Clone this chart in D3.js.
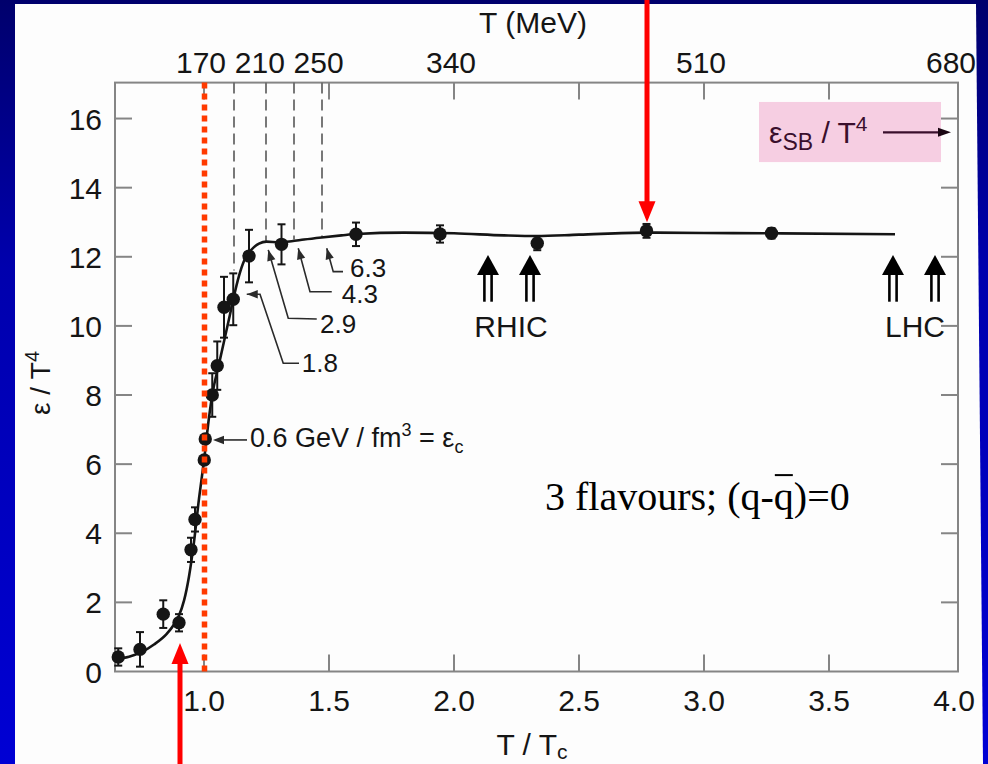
<!DOCTYPE html>
<html><head><meta charset="utf-8">
<script src="https://cdn.jsdelivr.net/npm/d3@7"></script>
<style>html,body{margin:0;padding:0;background:#00008a;}svg{display:block}</style>
</head><body>
<svg id="c" width="988" height="764"></svg>
<script>
// ---------- data ----------
const ratioTicks = [1.0, 1.5, 2.0, 2.5, 3.0, 3.5, 4.0];          // T/Tc
const yTicks = [0, 2, 4, 6, 8, 10, 12, 14, 16];                   // eps/T^4
const mevLabels = [170, 210, 250, 340, 510, 680];                 // T (MeV)
const Tc = 170;
const curveT = [0.644,0.70,0.75,0.80,0.85,0.88,0.90,0.92,0.94,0.96,0.98,1.00,1.02,1.033,1.06,1.08,1.10,1.117,1.14,1.16,1.18,1.20,1.22,1.25,1.30,1.35,1.40,1.47,1.55,1.61,1.80,2.00,2.20,2.33,2.50,2.77,3.00,3.27,3.764];
const curveE = [0.36,0.43,0.56,0.78,1.08,1.36,1.62,2.05,2.75,3.75,5.0,6.1,7.35,8.0,8.9,9.55,10.2,10.77,11.45,11.88,12.12,12.28,12.38,12.44,12.42,12.45,12.5,12.56,12.62,12.66,12.7,12.68,12.62,12.6,12.64,12.7,12.69,12.68,12.65];
const pointT = [0.657,0.744,0.837,0.900,0.948,0.964,1.001,1.005,1.033,1.053,1.080,1.117,1.180,1.310,1.608,1.944,2.333,2.770,3.270];
const pointE = [0.42,0.64,1.66,1.41,3.52,4.40,6.12,6.73,8.00,8.85,10.54,10.77,12.02,12.36,12.65,12.66,12.39,12.75,12.68];
const pointErr = [0.25,0.50,0.40,0.25,0.35,0.35,0.10,0.10,0.63,0.70,0.88,0.75,0.76,0.58,0.34,0.25,0.20,0.20,0.15];
const densityT = [1.12, 1.248, 1.36, 1.472];                      // dashed lines
const densityTop = [11.6, 12.45, 12.5, 12.56];
const densityLabels = ["1.8", "2.9", "4.3", "6.3"];               // GeV/fm^3
const rhicT = [2.136, 2.304];
const lhcT = [3.756, 3.924];
const sbValue = 15.6;
const critT = 1.0;
const highlightT = [0.904, 2.772];

// ---------- layout ----------
const svg = d3.select("#c");
const x = d3.scaleLinear().domain([0.644, 4.016]).range([115, 958]);
const y = d3.scaleLinear().domain([0, 17.04]).range([671.5, 82.6]);
const SANS = "'Liberation Sans', Arial, Helvetica, sans-serif";
const SERIF = "'Liberation Serif', 'Times New Roman', serif";
const INK = "#151515";

// background
const defs = svg.append("defs");
const g0 = defs.append("linearGradient").attr("id","bg").attr("x1",0).attr("y1",0).attr("x2",0).attr("y2",1);
g0.append("stop").attr("offset",0).attr("stop-color","#00006c");
g0.append("stop").attr("offset",0.35).attr("stop-color","#0000ad");
g0.append("stop").attr("offset",1).attr("stop-color","#0000d4");
svg.append("rect").attr("width",988).attr("height",764).attr("fill","url(#bg)");
svg.append("path").attr("d","M15,4 L976,4 L983,764 L15,764 Z").attr("fill","#fdfdfd");

const [x0, x1] = x.range(); const [yb, yt] = y.range();
const axisG = svg.append("g").attr("stroke","#858585").attr("stroke-width",2).attr("fill","none");
axisG.append("rect").attr("x",x0).attr("y",yt).attr("width",x1-x0).attr("height",yb-yt);
const TL = 17;
ratioTicks.filter(t => t < 3.9).forEach(t => {
  axisG.append("line").attr("x1",x(t)).attr("x2",x(t)).attr("y1",yb).attr("y2",yb-TL);
  axisG.append("line").attr("x1",x(t)).attr("x2",x(t)).attr("y1",yt).attr("y2",yt+TL);
});
yTicks.filter(v => v > 0).forEach(v => {
  axisG.append("line").attr("x1",x0).attr("x2",x0+TL).attr("y1",y(v)).attr("y2",y(v));
  axisG.append("line").attr("x1",x1).attr("x2",x1-TL).attr("y1",y(v)).attr("y2",y(v));
});

// tick labels
const lab = svg.append("g").attr("font-family",SANS).attr("font-size",30).attr("fill",INK);
ratioTicks.forEach(t => lab.append("text").attr("x",x(t)).attr("y",711).attr("text-anchor","middle").text(t.toFixed(1)));
yTicks.forEach(v => lab.append("text").attr("x",102).attr("y",y(v)+11).attr("text-anchor","end").text(v));
mevLabels.forEach(m => lab.append("text").attr("x",x(m/Tc)-3).attr("y",73).attr("text-anchor","middle").text(m));
lab.append("text").attr("x",533).attr("y",33).attr("text-anchor","middle").text("T (MeV)");
const xt = lab.append("text").attr("x",532).attr("y",755).attr("text-anchor","middle");
xt.append("tspan").text("T / T");
xt.append("tspan").attr("font-size",21).attr("dy",4).text("c");
const yl = lab.append("text").attr("transform","translate(50,383) rotate(-90)").attr("text-anchor","middle").attr("font-size",28);
yl.append("tspan").text("ε / T");
yl.append("tspan").attr("font-size",20).attr("dy",-11).text("4");

// dashed energy-density lines
densityT.forEach((t,i) => svg.append("line").attr("x1",x(t)).attr("x2",x(t)).attr("y1",yt).attr("y2",y(densityTop[i]))
  .attr("stroke","#6a6a6a").attr("stroke-width",1.8).attr("stroke-dasharray","11,6"));

// curve
const line = d3.line().x(d=>x(d[0])).y(d=>y(d[1])).curve(d3.curveMonotoneX);
svg.append("path").datum(curveT.map((t,i)=>[t,curveE[i]])).attr("d",line)
  .attr("fill","none").attr("stroke",INK).attr("stroke-width",2.6);

// points with error bars
const pg = svg.append("g");
pointT.forEach((t,i) => {
  const cx = x(t), lo = y(pointE[i]-pointErr[i]), hi = y(pointE[i]+pointErr[i]);
  pg.append("line").attr("x1",cx).attr("x2",cx).attr("y1",lo).attr("y2",hi).attr("stroke",INK).attr("stroke-width",2);
  [lo,hi].forEach(yy => pg.append("line").attr("x1",cx-4).attr("x2",cx+4).attr("y1",yy).attr("y2",yy).attr("stroke",INK).attr("stroke-width",2));
  pg.append("circle").attr("cx",cx).attr("cy",y(pointE[i])).attr("r",6.7).attr("fill",INK);
});

// arrowhead helper
function head(g, tip, from, len, hw, color) {
  const dx = tip[0]-from[0], dy = tip[1]-from[1], L = Math.hypot(dx,dy);
  const ux = dx/L, uy = dy/L, bx = tip[0]-ux*len, by = tip[1]-uy*len;
  g.append("path").attr("d",`M${tip[0]},${tip[1]}L${bx-uy*hw},${by+ux*hw}L${bx+uy*hw},${by-ux*hw}Z`).attr("fill",color);
}
const P = (t,v) => [x(t), y(v)];

// leader annotations for energy densities
const leaders = [
  {pts:[[1.171,10.915],[1.224,10.915],[1.317,8.918],[1.38,8.918]], tx:1.391, ty:8.67},
  {pts:[[1.257,12.2],[1.337,10.22],[1.451,10.2]], tx:1.464, ty:9.8},
  {pts:[[1.377,12.245],[1.424,10.99],[1.511,10.99]], tx:1.551, ty:10.66},
  {pts:[[1.491,12.245],[1.517,11.57],[1.556,11.57]], tx:1.584, ty:11.42}
];
const ag = svg.append("g");
leaders.forEach((L,i) => {
  const pp = L.pts.map(p => P(p[0],p[1]));
  ag.append("path").attr("d",d3.line()(pp)).attr("fill","none").attr("stroke","#2a2a2a").attr("stroke-width",1.6);
  head(ag, pp[0], pp[1], 11, 4.2, "#2a2a2a");
  ag.append("text").attr("x",x(L.tx)).attr("y",y(L.ty)).attr("font-family",SANS).attr("font-size",26).attr("fill",INK).text(densityLabels[i]);
});
// epsilon_c annotation
{
  const tip = P(1.036,6.70), tail = P(1.172,6.70);
  ag.append("line").attr("x1",tail[0]).attr("x2",tip[0]+6).attr("y1",tip[1]).attr("y2",tip[1]).attr("stroke","#2a2a2a").attr("stroke-width",1.6);
  head(ag, tip, tail, 11, 4.2, "#2a2a2a");
  const t = ag.append("text").attr("x",x(1.184)).attr("y",y(6.50)).attr("font-family",SANS).attr("font-size",27).attr("fill",INK);
  t.append("tspan").text("0.6 GeV / fm");
  t.append("tspan").attr("font-size",18).attr("dy",-11).text("3");
  t.append("tspan").attr("dy",11).text(" = ε");
  t.append("tspan").attr("font-size",18).attr("dy",6).text("c");
}

// RHIC / LHC double arrows
function dbl(t) {
  const cx = x(t), tipY = y(12.05), baseY = y(11.47), botY = y(10.7);
  ag.append("path").attr("d",`M${cx},${tipY}L${cx-11},${baseY}L${cx+11},${baseY}Z`).attr("fill","#000");
  [-3.6,3.6].forEach(o => ag.append("line").attr("x1",cx+o).attr("x2",cx+o).attr("y1",baseY-1).attr("y2",botY).attr("stroke","#000").attr("stroke-width",2.6));
}
rhicT.forEach(dbl); lhcT.forEach(dbl);
ag.append("text").attr("x",x(d3.mean(rhicT))+2).attr("y",y(9.68)).attr("text-anchor","middle").attr("font-family",SANS).attr("font-size",30).attr("fill",INK).text("RHIC");
ag.append("text").attr("x",x(d3.mean(lhcT))+1).attr("y",y(9.68)).attr("text-anchor","middle").attr("font-family",SANS).attr("font-size",30).attr("fill",INK).text("LHC");

// Stefan-Boltzmann legend
{
  const lx0 = x(3.22), lx1 = x(3.948), ly0 = y(16.48), ly1 = y(14.74);
  svg.append("rect").attr("x",lx0).attr("y",ly0).attr("width",lx1-lx0).attr("height",ly1-ly0).attr("fill","#f6cee2");
  const t = svg.append("text").attr("x",x(3.26)).attr("y",y(15.29)).attr("font-family",SANS).attr("font-size",30).attr("fill","#3a0f2c");
  t.append("tspan").text("ε");
  t.append("tspan").attr("font-size",23).attr("dy",7).text("SB");
  t.append("tspan").attr("dy",-7).text(" / T");
  t.append("tspan").attr("font-size",21).attr("dy",-12).text("4");
  const a0 = P(3.716, sbValue), a1 = P(3.988, sbValue);
  svg.append("line").attr("x1",a0[0]).attr("x2",a1[0]-8).attr("y1",a0[1]).attr("y2",a0[1]).attr("stroke","#3a0f2c").attr("stroke-width",2.2);
  head(svg, a1, a0, 13, 4.5, "#1a0612");
}

// 3 flavours text
{
  const t = svg.append("text").attr("x",x(2.364)).attr("y",y(4.67)).attr("font-family",SERIF).attr("font-size",40).attr("fill","#000")
    .text("3 flavours; (q-q)=0");
  const node = t.node(); const s = node.textContent; const qi = s.lastIndexOf("q");
  const e = node.getExtentOfChar(qi);
  svg.append("line").attr("x1",e.x+1).attr("x2",e.x+e.width-1).attr("y1",y(4.67)-35).attr("y2",y(4.67)-35).attr("stroke","#000").attr("stroke-width",2);
}

// red dotted T_c line
svg.append("line").attr("x1",x(critT)+0.5).attr("x2",x(critT)+0.5).attr("y1",yt).attr("y2",yb)
  .attr("stroke","#ff3a00").attr("stroke-width",5.5).attr("stroke-dasharray","6,5");

// big red arrows
{
  const bx = x(highlightT[0]), btip = y(0.825);
  svg.append("line").attr("x1",bx).attr("x2",bx).attr("y1",764).attr("y2",btip+16).attr("stroke","#ff0000").attr("stroke-width",5);
  svg.append("path").attr("d",`M${bx},${btip}L${bx-8.5},${btip+21}L${bx+8.5},${btip+21}Z`).attr("fill","#ff0000");
  const tx = x(highlightT[1]), ttip = y(13.0);
  svg.append("line").attr("x1",tx).attr("x2",tx).attr("y1",0).attr("y2",ttip-16).attr("stroke","#ff0000").attr("stroke-width",5);
  svg.append("path").attr("d",`M${tx},${ttip}L${tx-8.5},${ttip-21}L${tx+8.5},${ttip-21}Z`).attr("fill","#ff0000");
}
</script>
</body></html>
